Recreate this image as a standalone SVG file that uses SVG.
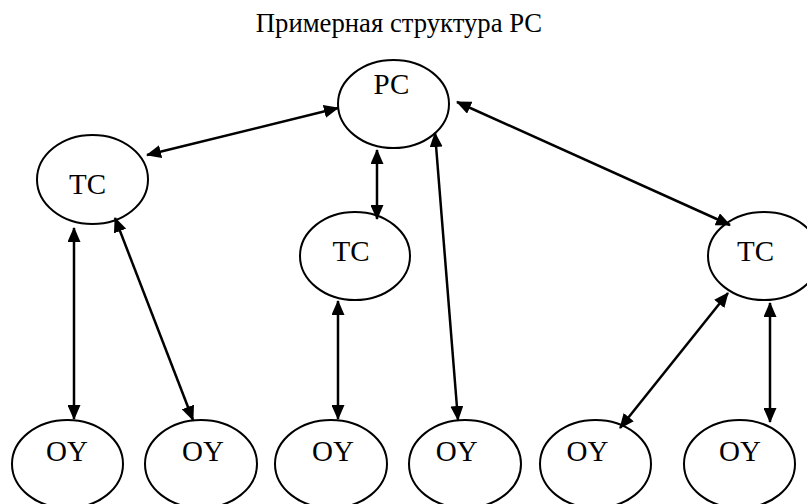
<svg xmlns="http://www.w3.org/2000/svg" width="807" height="504" viewBox="0 0 807 504">
<style>
.n{fill:#fff;stroke:#000;stroke-width:2}
text{font-family:'Liberation Serif','Times New Roman','DejaVu Serif',serif;fill:#000;text-anchor:middle}
.t{font-size:29px}
.title{font-size:26.7px}
.c line{stroke:#000;stroke-width:2.5;marker-start:url(#ah);marker-end:url(#ah)}
</style>
<defs>
<marker id="ah" markerUnits="userSpaceOnUse" markerWidth="15" markerHeight="13" refX="14" refY="6.5" orient="auto-start-reverse" viewBox="0 0 15 13">
<path d="M0,0 L15,6.5 L0,13 z" fill="#000"/>
</marker>
</defs>
<rect width="807" height="504" fill="#fff"/>
<text class="title" x="399" y="32" font-family="Liberation Serif, serif">Примерная структура РС</text>
<g id="pc"><ellipse class="n" cx="393.5" cy="104" rx="55.5" ry="44"/><text class="t" x="391.5" y="94" font-family="Liberation Serif, serif">РС</text></g>
<g id="tc1"><ellipse class="n" cx="92.5" cy="179.5" rx="55.5" ry="44.5"/><text class="t" x="87.5" y="194" font-family="Liberation Serif, serif">ТС</text></g>
<g id="tc2"><ellipse class="n" cx="355" cy="256" rx="55" ry="44"/><text class="t" x="351" y="261" font-family="Liberation Serif, serif">ТС</text></g>
<g id="tc3"><ellipse class="n" cx="764" cy="256" rx="56" ry="44"/><text class="t" x="755.5" y="261" font-family="Liberation Serif, serif">ТС</text></g>
<g id="oy1"><ellipse class="n" cx="67.5" cy="464" rx="55.5" ry="44"/><text class="t" x="67" y="461" font-family="Liberation Serif, serif">ОY</text></g>
<g id="oy2"><ellipse class="n" cx="201" cy="464" rx="56" ry="44"/><text class="t" x="203" y="461" font-family="Liberation Serif, serif">ОY</text></g>
<g id="oy3"><ellipse class="n" cx="331" cy="464" rx="56" ry="44"/><text class="t" x="333" y="461" font-family="Liberation Serif, serif">ОY</text></g>
<g id="oy4"><ellipse class="n" cx="465" cy="464" rx="56" ry="44"/><text class="t" x="456.7" y="461" font-family="Liberation Serif, serif">ОY</text></g>
<g id="oy5"><ellipse class="n" cx="595.5" cy="464" rx="55.5" ry="44"/><text class="t" x="587.5" y="461" font-family="Liberation Serif, serif">ОY</text></g>
<g id="oy6"><ellipse class="n" cx="739.5" cy="464" rx="55.5" ry="44"/><text class="t" x="740" y="461" font-family="Liberation Serif, serif">ОY</text></g>
<g id="connectors" class="c">
<line x1="147" y1="155" x2="338" y2="108"/>
<line x1="457" y1="102" x2="730" y2="225"/>
<line x1="377" y1="150" x2="377" y2="219"/>
<line x1="435" y1="133" x2="458" y2="420"/>
<line x1="74" y1="228" x2="74" y2="419"/>
<line x1="115" y1="218" x2="193" y2="420"/>
<line x1="338" y1="301" x2="338" y2="419"/>
<line x1="728" y1="293" x2="620" y2="428"/>
<line x1="770" y1="303" x2="770" y2="422"/>
</g>
</svg>
